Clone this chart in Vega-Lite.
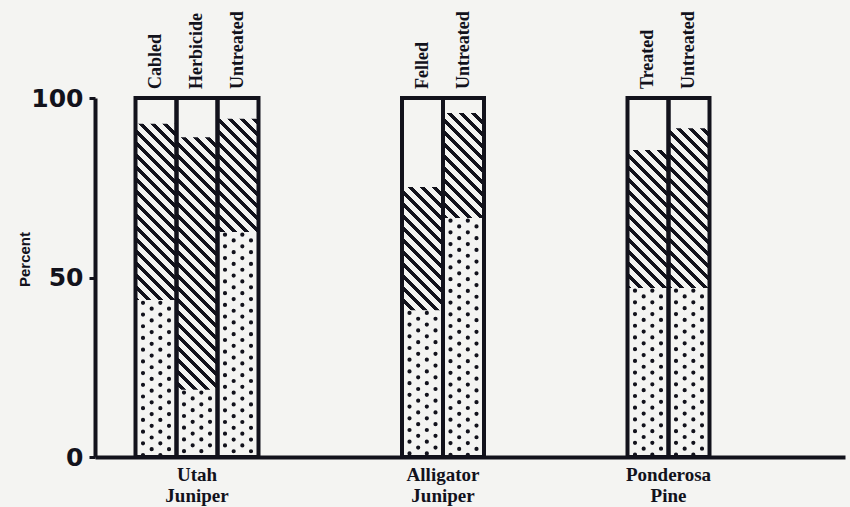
{
  "$schema": "https://vega.github.io/schema/vega-lite/v6.json",
  "width": 750,
  "height": 359,
  "autosize": {"type": "none"},
  "padding": {"left": 95, "top": 98, "right": 5, "bottom": 50},
  "background": "#f4f4f2",
  "data": {
    "values": [
      {"bar": "UJ Cabled", "group": "Utah Juniper", "treatment": "Cabled", "dotted_top": 43.7, "hatched_top": 92.8, "total": 100},
      {"bar": "UJ Herbicide", "group": "Utah Juniper", "treatment": "Herbicide", "dotted_top": 18.7, "hatched_top": 89.1, "total": 100},
      {"bar": "UJ Untreated", "group": "Utah Juniper", "treatment": "Untreated", "dotted_top": 62.7, "hatched_top": 94.2, "total": 100},
      {"bar": "AJ Felled", "group": "Alligator Juniper", "treatment": "Felled", "dotted_top": 40.9, "hatched_top": 75.2, "total": 100},
      {"bar": "AJ Untreated", "group": "Alligator Juniper", "treatment": "Untreated", "dotted_top": 66.6, "hatched_top": 95.8, "total": 100},
      {"bar": "PP Treated", "group": "Ponderosa Pine", "treatment": "Treated", "dotted_top": 47.1, "hatched_top": 85.5, "total": 100},
      {"bar": "PP Untreated", "group": "Ponderosa Pine", "treatment": "Untreated", "dotted_top": 47.1, "hatched_top": 91.6, "total": 100}
    ]
  },
  "encoding": {
    "x": {
      "field": "bar",
      "type": "nominal",
      "title": null,
      "scale": {
        "domain": ["l1", "l2", "UJ Cabled", "s1", "UJ Herbicide", "s3", "UJ Untreated", "s5", "s6", "s7", "s8", "s9", "s10", "s11", "s12", "AJ Felled", "Alligator Juniper", "AJ Untreated", "s16", "s17", "s18", "s19", "s20", "s21", "s22", "s23", "PP Treated", "Ponderosa Pine", "PP Untreated", "r1", "r2", "r3", "r4", "r5", "r6"],
        "paddingInner": 0,
        "paddingOuter": 0.7927,
        "align": 0.3001
      },
      "axis": {
        "values": ["UJ Herbicide", "Alligator Juniper", "Ponderosa Pine"],
        "labelExpr": "datum.value == 'UJ Herbicide' ? ['Utah', 'Juniper'] : split(datum.value, ' ')",
        "title": null
      }
    }
  },
  "layer": [
    {
      "mark": {
        "type": "bar",
        "width": 41,
        "fill": {
          "gradient": "linear",
          "x1": 0, "y1": 1, "x2": 0.12561, "y2": -0.09983,
          "stops": [
            {"offset": 0, "color": "#12121c"}, {"offset": 0.0125, "color": "#12121c"}, {"offset": 0.0125, "color": "#f4f4f2"}, {"offset": 0.03, "color": "#f4f4f2"},
            {"offset": 0.03, "color": "#12121c"}, {"offset": 0.0425, "color": "#12121c"}, {"offset": 0.0425, "color": "#f4f4f2"}, {"offset": 0.06, "color": "#f4f4f2"},
            {"offset": 0.06, "color": "#12121c"}, {"offset": 0.0725, "color": "#12121c"}, {"offset": 0.0725, "color": "#f4f4f2"}, {"offset": 0.09, "color": "#f4f4f2"},
            {"offset": 0.09, "color": "#12121c"}, {"offset": 0.1025, "color": "#12121c"}, {"offset": 0.1025, "color": "#f4f4f2"}, {"offset": 0.12, "color": "#f4f4f2"},
            {"offset": 0.12, "color": "#12121c"}, {"offset": 0.1325, "color": "#12121c"}, {"offset": 0.1325, "color": "#f4f4f2"}, {"offset": 0.15, "color": "#f4f4f2"},
            {"offset": 0.15, "color": "#12121c"}, {"offset": 0.1625, "color": "#12121c"}, {"offset": 0.1625, "color": "#f4f4f2"}, {"offset": 0.18, "color": "#f4f4f2"},
            {"offset": 0.18, "color": "#12121c"}, {"offset": 0.1925, "color": "#12121c"}, {"offset": 0.1925, "color": "#f4f4f2"}, {"offset": 0.21, "color": "#f4f4f2"},
            {"offset": 0.21, "color": "#12121c"}, {"offset": 0.2225, "color": "#12121c"}, {"offset": 0.2225, "color": "#f4f4f2"}, {"offset": 0.24, "color": "#f4f4f2"},
            {"offset": 0.24, "color": "#12121c"}, {"offset": 0.2525, "color": "#12121c"}, {"offset": 0.2525, "color": "#f4f4f2"}, {"offset": 0.27, "color": "#f4f4f2"},
            {"offset": 0.27, "color": "#12121c"}, {"offset": 0.2825, "color": "#12121c"}, {"offset": 0.2825, "color": "#f4f4f2"}, {"offset": 0.30, "color": "#f4f4f2"},
            {"offset": 0.30, "color": "#12121c"}, {"offset": 0.3125, "color": "#12121c"}, {"offset": 0.3125, "color": "#f4f4f2"}, {"offset": 0.33, "color": "#f4f4f2"},
            {"offset": 0.33, "color": "#12121c"}, {"offset": 0.3425, "color": "#12121c"}, {"offset": 0.3425, "color": "#f4f4f2"}, {"offset": 0.36, "color": "#f4f4f2"},
            {"offset": 0.36, "color": "#12121c"}, {"offset": 0.3725, "color": "#12121c"}, {"offset": 0.3725, "color": "#f4f4f2"}, {"offset": 0.39, "color": "#f4f4f2"},
            {"offset": 0.39, "color": "#12121c"}, {"offset": 0.4025, "color": "#12121c"}, {"offset": 0.4025, "color": "#f4f4f2"}, {"offset": 0.42, "color": "#f4f4f2"},
            {"offset": 0.42, "color": "#12121c"}, {"offset": 0.4325, "color": "#12121c"}, {"offset": 0.4325, "color": "#f4f4f2"}, {"offset": 0.45, "color": "#f4f4f2"},
            {"offset": 0.45, "color": "#12121c"}, {"offset": 0.4625, "color": "#12121c"}, {"offset": 0.4625, "color": "#f4f4f2"}, {"offset": 0.48, "color": "#f4f4f2"},
            {"offset": 0.48, "color": "#12121c"}, {"offset": 0.4925, "color": "#12121c"}, {"offset": 0.4925, "color": "#f4f4f2"}, {"offset": 0.51, "color": "#f4f4f2"},
            {"offset": 0.51, "color": "#12121c"}, {"offset": 0.5225, "color": "#12121c"}, {"offset": 0.5225, "color": "#f4f4f2"}, {"offset": 0.54, "color": "#f4f4f2"},
            {"offset": 0.54, "color": "#12121c"}, {"offset": 0.5525, "color": "#12121c"}, {"offset": 0.5525, "color": "#f4f4f2"}, {"offset": 0.57, "color": "#f4f4f2"},
            {"offset": 0.57, "color": "#12121c"}, {"offset": 0.5825, "color": "#12121c"}, {"offset": 0.5825, "color": "#f4f4f2"}, {"offset": 0.60, "color": "#f4f4f2"},
            {"offset": 0.60, "color": "#12121c"}, {"offset": 0.6125, "color": "#12121c"}, {"offset": 0.6125, "color": "#f4f4f2"}, {"offset": 0.63, "color": "#f4f4f2"},
            {"offset": 0.63, "color": "#12121c"}, {"offset": 0.6425, "color": "#12121c"}, {"offset": 0.6425, "color": "#f4f4f2"}, {"offset": 0.66, "color": "#f4f4f2"},
            {"offset": 0.66, "color": "#12121c"}, {"offset": 0.6725, "color": "#12121c"}, {"offset": 0.6725, "color": "#f4f4f2"}, {"offset": 0.69, "color": "#f4f4f2"},
            {"offset": 0.69, "color": "#12121c"}, {"offset": 0.7025, "color": "#12121c"}, {"offset": 0.7025, "color": "#f4f4f2"}, {"offset": 0.72, "color": "#f4f4f2"},
            {"offset": 0.72, "color": "#12121c"}, {"offset": 0.7325, "color": "#12121c"}, {"offset": 0.7325, "color": "#f4f4f2"}, {"offset": 0.75, "color": "#f4f4f2"},
            {"offset": 0.75, "color": "#12121c"}, {"offset": 0.7625, "color": "#12121c"}, {"offset": 0.7625, "color": "#f4f4f2"}, {"offset": 0.78, "color": "#f4f4f2"},
            {"offset": 0.78, "color": "#12121c"}, {"offset": 0.7925, "color": "#12121c"}, {"offset": 0.7925, "color": "#f4f4f2"}, {"offset": 0.81, "color": "#f4f4f2"},
            {"offset": 0.81, "color": "#12121c"}, {"offset": 0.8225, "color": "#12121c"}, {"offset": 0.8225, "color": "#f4f4f2"}, {"offset": 0.84, "color": "#f4f4f2"},
            {"offset": 0.84, "color": "#12121c"}, {"offset": 0.8525, "color": "#12121c"}, {"offset": 0.8525, "color": "#f4f4f2"}, {"offset": 0.87, "color": "#f4f4f2"},
            {"offset": 0.87, "color": "#12121c"}, {"offset": 0.8825, "color": "#12121c"}, {"offset": 0.8825, "color": "#f4f4f2"}, {"offset": 0.90, "color": "#f4f4f2"},
            {"offset": 0.90, "color": "#12121c"}, {"offset": 0.9125, "color": "#12121c"}, {"offset": 0.9125, "color": "#f4f4f2"}, {"offset": 0.93, "color": "#f4f4f2"},
            {"offset": 0.93, "color": "#12121c"}, {"offset": 0.9425, "color": "#12121c"}, {"offset": 0.9425, "color": "#f4f4f2"}, {"offset": 0.96, "color": "#f4f4f2"},
            {"offset": 0.96, "color": "#12121c"}, {"offset": 0.9725, "color": "#12121c"}, {"offset": 0.9725, "color": "#f4f4f2"}, {"offset": 0.99, "color": "#f4f4f2"},
            {"offset": 0.99, "color": "#12121c"}, {"offset": 1, "color": "#12121c"}
          ]
        }
      },
      "encoding": {
        "y": {
          "field": "total",
          "type": "quantitative",
          "stack": null,
          "scale": {"domain": [0, 100], "nice": false, "zero": true},
          "axis": {"values": [0, 50, 100], "title": "Percent"}
        }
      }
    },
    {
      "mark": {"type": "bar", "width": 41, "fill": "#f4f4f2"},
      "encoding": {
        "y": {"field": "dotted_top", "type": "quantitative", "stack": null, "axis": {"values": [0, 50, 100], "title": "Percent"}}
      }
    },
    {
      "mark": {"type": "bar", "width": 41, "fill": "#f4f4f2"},
      "encoding": {
        "y": {"field": "total", "type": "quantitative", "stack": null, "axis": {"values": [0, 50, 100], "title": "Percent"}},
        "y2": {"field": "hatched_top"}
      }
    },
    {
      "mark": {"type": "rule", "xOffset": -13, "strokeDash": [0.01, 11.7], "strokeDashOffset": 9, "strokeCap": "round", "strokeWidth": 4.2, "color": "#12121c"},
      "encoding": {
        "y": {"field": "dotted_top", "type": "quantitative", "axis": {"values": [0, 50, 100], "title": "Percent"}},
        "y2": {"value": "height"}
      }
    },
    {
      "mark": {"type": "rule", "xOffset": -4.33, "strokeDash": [0.01, 11.7], "strokeDashOffset": 3.15, "strokeCap": "round", "strokeWidth": 4.2, "color": "#12121c"},
      "encoding": {
        "y": {"field": "dotted_top", "type": "quantitative", "axis": {"values": [0, 50, 100], "title": "Percent"}},
        "y2": {"value": "height"}
      }
    },
    {
      "mark": {"type": "rule", "xOffset": 4.33, "strokeDash": [0.01, 11.7], "strokeDashOffset": 9, "strokeCap": "round", "strokeWidth": 4.2, "color": "#12121c"},
      "encoding": {
        "y": {"field": "dotted_top", "type": "quantitative", "axis": {"values": [0, 50, 100], "title": "Percent"}},
        "y2": {"value": "height"}
      }
    },
    {
      "mark": {"type": "rule", "xOffset": 13, "strokeDash": [0.01, 11.7], "strokeDashOffset": 3.15, "strokeCap": "round", "strokeWidth": 4.2, "color": "#12121c"},
      "encoding": {
        "y": {"field": "dotted_top", "type": "quantitative", "axis": {"values": [0, 50, 100], "title": "Percent"}},
        "y2": {"value": "height"}
      }
    },
    {
      "mark": {"type": "bar", "width": 41, "fillOpacity": 0, "stroke": "#12121c", "strokeWidth": 4},
      "encoding": {
        "y": {"field": "total", "type": "quantitative", "stack": null, "axis": {"values": [0, 50, 100], "title": "Percent"}}
      }
    },
    {
      "mark": {"type": "text", "angle": 270, "align": "left", "baseline": "middle", "dx": 9, "font": "Liberation Serif", "fontSize": 18, "fontWeight": "bold", "color": "#12121c"},
      "encoding": {
        "y": {"field": "total", "type": "quantitative", "axis": {"values": [0, 50, 100], "title": "Percent"}},
        "text": {"field": "treatment", "type": "nominal"}
      }
    }
  ],
  "config": {
    "view": {"stroke": null},
    "axisX": {
      "domainColor": "#12121c",
      "domainWidth": 4,
      "ticks": false,
      "grid": false,
      "labelAngle": 0,
      "labelFont": "Liberation Serif",
      "labelFontSize": 19,
      "labelFontWeight": "bold",
      "labelColor": "#12121c",
      "labelPadding": 8,
      "labelLineHeight": 21,
      "labelBaseline": "top"
    },
    "axisY": {
      "domainColor": "#12121c",
      "domainWidth": 4,
      "tickColor": "#12121c",
      "tickSize": 6,
      "tickWidth": 3,
      "grid": false,
      "labelFont": "DejaVu Sans",
      "labelFontSize": 25,
      "labelFontWeight": "bold",
      "labelColor": "#12121c",
      "labelPadding": 6,
      "titleFont": "Liberation Sans",
      "titleFontSize": 15,
      "titleFontWeight": "bold",
      "titleColor": "#12121c",
      "titleAngle": 270,
      "titleAlign": "center",
      "titleBaseline": "middle",
      "titleX": -71,
      "titleY": 161
    }
  }
}
